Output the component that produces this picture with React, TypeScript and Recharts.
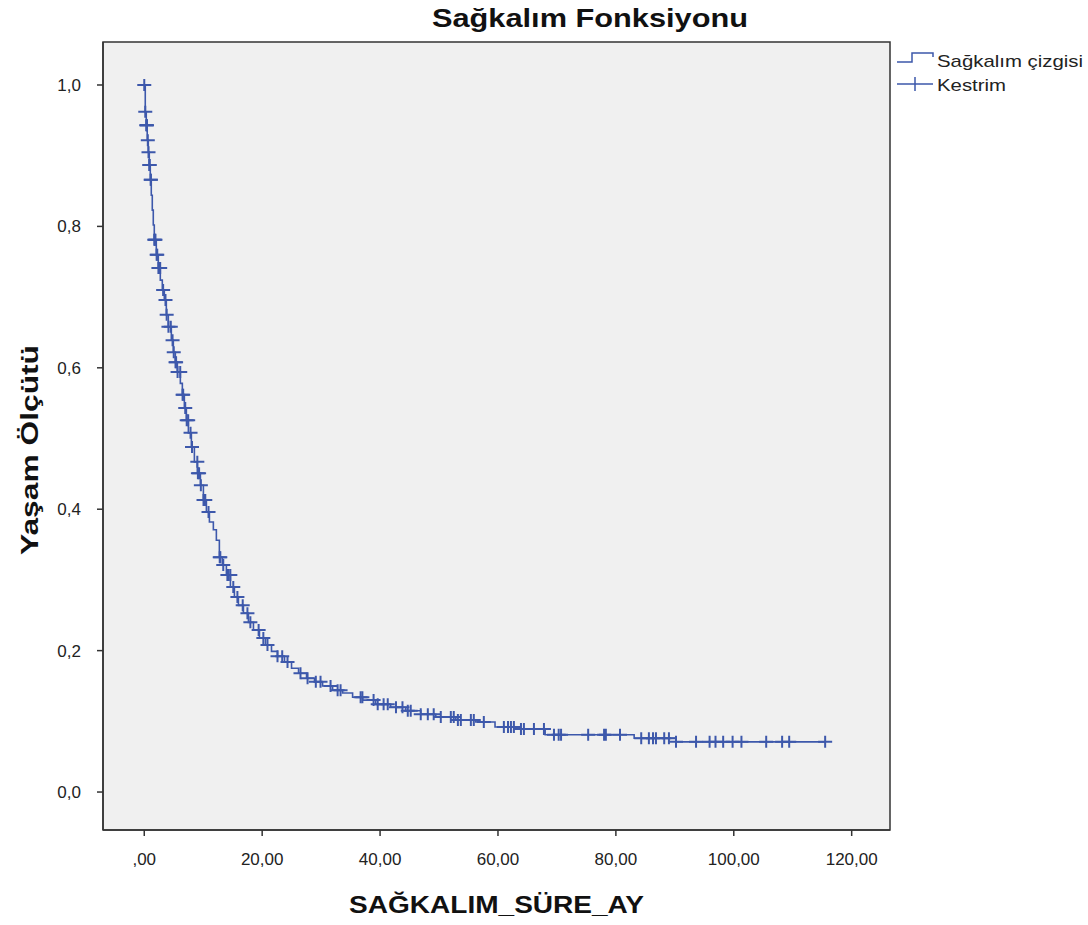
import React from 'react';
import {
  ComposedChart,
  Line,
  Scatter,
  XAxis,
  YAxis,
  ReferenceArea,
  Legend,
  Label
} from 'recharts';

// Kaplan-Meier estimate read off the SPSS output (months, survival)
const eventTimes = [
  0, 0.17, 0.34, 0.5, 0.68, 0.85, 1.02, 1.19, 1.36, 1.53, 1.7, 2.04, 2.38, 2.72, 3.06, 3.4, 3.74,
  4.08, 4.59, 4.93, 5.27, 5.61, 6.12, 6.46, 6.8, 7.14, 7.48, 7.99, 8.5, 9.01, 9.52, 10.03, 10.54,
  11.05, 11.72, 12.23, 12.74, 13.25, 13.93, 14.61, 15.29, 15.97, 16.82, 17.67, 18.52, 19.54, 20.56,
  21.58, 22.6, 23.79, 24.98, 26.17, 27.53, 28.89, 30.25, 31.95, 33.64, 35.34, 37.04, 39.25, 41.8,
  44.35, 46.9, 49.45, 52.85, 56.24, 59.5, 63.5, 68.0, 83.1, 90.2
];
const eventSurv = [
  1.0, 0.962, 0.943, 0.922, 0.905, 0.887, 0.866, 0.844, 0.823, 0.802, 0.781, 0.76, 0.741, 0.724,
  0.71, 0.696, 0.675, 0.658, 0.639, 0.622, 0.608, 0.594, 0.578, 0.562, 0.543, 0.526, 0.508, 0.488,
  0.467, 0.451, 0.434, 0.413, 0.396, 0.382, 0.371, 0.356, 0.332, 0.321, 0.307, 0.29, 0.276, 0.264,
  0.253, 0.24, 0.229, 0.218, 0.208, 0.199, 0.192, 0.184, 0.175, 0.168, 0.161, 0.156, 0.15, 0.144,
  0.14, 0.134, 0.13, 0.124, 0.12, 0.115, 0.11, 0.106, 0.102, 0.099, 0.092, 0.089, 0.081, 0.076, 0.071
];

// censored observations (Kestrim)
const censorTimes = [
  0, 0.17, 0.34, 0.42, 0.46, 0.6, 0.72, 0.85, 0.93, 1.1, 1.12, 1.7, 1.8, 1.9, 2.1, 2.2, 2.4, 2.6,
  2.7, 3.2, 3.6, 3.8, 4.1, 4.5, 4.8, 5.0, 5.3, 5.4, 5.65, 6.1, 6.5, 6.6, 6.95, 7.2, 7.45, 7.85, 8.1,
  9.0, 9.1, 9.3, 9.6, 10.05, 10.2, 10.35, 10.9, 12.8, 12.9, 13.4, 14.1, 14.3, 14.6, 15.1, 15.8,
  16.7, 17.5, 18.0, 19.4, 20.2, 20.9, 22.6, 23.4, 24.3, 26.5, 27.7, 29.1, 29.9, 31.6, 32.8, 33.3,
  36.7, 37.0, 38.9, 39.6, 40.6, 41.3, 42.7, 43.8, 44.7, 45.2, 46.9, 48.1, 49.1, 50.3, 52.0, 52.5,
  53.2, 53.7, 55.4, 55.9, 57.6, 61.0, 61.7, 62.2, 62.7, 63.9, 64.4, 66.1, 67.8, 69.5, 70.3, 70.7,
  75.3, 78.0, 78.3, 80.7, 84.3, 85.6, 86.3, 86.8, 88.2, 89.0, 90.2, 93.6, 95.9, 96.9, 98.2, 99.8,
  101.3, 105.5, 108.2, 109.4, 115.5
];

const xTicks = [0, 20, 40, 60, 80, 100, 120];
const yTicks = [0, 0.2, 0.4, 0.6, 0.8, 1.0];

const X_DOMAIN: [number, number] = [-7.0, 126.5];
const Y_DOMAIN: [number, number] = [-0.0537, 1.0608];

const BLUE = '#3d58ab';
const FONT = 'Arial, "Liberation Sans", sans-serif';

// survival level of the step function at time t
const survAt = (t: number) => {
  let s = eventSurv[0];
  for (let i = 0; i < eventTimes.length; i++) {
    if (eventTimes[i] <= t) s = eventSurv[i];
  }
  return s;
};

const lastTime = censorTimes[censorTimes.length - 1];
const stepData = eventTimes
  .map((t, i) => ({ t, s: eventSurv[i] }))
  .concat([{ t: lastTime, s: eventSurv[eventSurv.length - 1] }]);
const censorData = censorTimes.map(t => ({ t, s: survAt(t) }));

const fmtX = (v: number) => (v === 0 ? ',00' : v.toFixed(2).replace('.', ','));
const fmtY = (v: number) => v.toFixed(1).replace('.', ',');

const CensorMark = (props: any) => {
  const { cx, cy } = props;
  if (cx == null || cy == null) return null;
  return (
    <path
      d={`M${cx - 7},${cy}h14M${cx},${cy - 6}v12`}
      stroke={BLUE}
      strokeWidth={2}
      fill="none"
    />
  );
};

const LegendBox = () => (
  <svg width={195} height={60} style={{ display: 'block' }}>
    <path d="M4,22H19V13H40V17" stroke={BLUE} strokeWidth={1.5} fill="none" />
    <text x={44} y={27} fontFamily={FONT} fontSize={17} fill="#222" textLength={146} lengthAdjust="spacingAndGlyphs">
      Sağkalım çizgisi
    </text>
    <path d="M4,44H40M22,37V51" stroke={BLUE} strokeWidth={1.5} fill="none" />
    <text x={44} y={51} fontFamily={FONT} fontSize={17} fill="#222" textLength={69} lengthAdjust="spacingAndGlyphs">
      Kestrim
    </text>
  </svg>
);

const XTitle = (props: any) => {
  const vb = props.viewBox || {};
  return (
    <text
      x={vb.x + vb.width / 2}
      y={vb.y + 83}
      textAnchor="middle"
      fontFamily={FONT}
      fontWeight="bold"
      fontSize={23}
      fill="#111"
      textLength={295}
      lengthAdjust="spacingAndGlyphs"
    >
      SAĞKALIM_SÜRE_AY
    </text>
  );
};

const YTitle = (props: any) => {
  const vb = props.viewBox || {};
  const cx = 30;
  const cy = vb.y + vb.height / 2 + 14;
  return (
    <text
      x={cx}
      y={cy}
      transform={`rotate(-90 ${cx} ${cy})`}
      textAnchor="middle"
      dominantBaseline="central"
      fontFamily={FONT}
      fontWeight="bold"
      fontSize={23}
      fill="#111"
      textLength={210}
      lengthAdjust="spacingAndGlyphs"
    >
      Yaşam Ölçütü
    </text>
  );
};

export default function App() {
  return (
    <div style={{ position: 'absolute', left: 0, top: 0, width: 1088, height: 925, background: '#fff' }}>
      <svg width={1088} height={40} style={{ position: 'absolute', left: 0, top: 0 }}>
        <text
          x={590}
          y={27}
          textAnchor="middle"
          fontFamily={FONT}
          fontWeight="bold"
          fontSize={26}
          fill="#111"
          textLength={316}
          lengthAdjust="spacingAndGlyphs"
        >
          Sağkalım Fonksiyonu
        </text>
      </svg>
      <ComposedChart
        width={1088}
        height={925}
        margin={{ top: 42, right: 198, bottom: 0, left: 0 }}
        style={{ position: 'absolute', left: 0, top: 0 }}
      >
        <XAxis
          type="number"
          dataKey="t"
          domain={X_DOMAIN}
          ticks={xTicks}
          allowDataOverflow
          tickFormatter={fmtX}
          height={95}
          tickSize={6}
          tickMargin={17}
          axisLine={{ stroke: '#333', strokeWidth: 1.5 }}
          tickLine={{ stroke: '#333', strokeWidth: 1.5 }}
          tick={{ fill: '#222', fontSize: 17, fontFamily: FONT }}
        >
          <Label content={<XTitle />} />
        </XAxis>
        <YAxis
          type="number"
          dataKey="s"
          domain={Y_DOMAIN}
          ticks={yTicks}
          allowDataOverflow
          tickFormatter={fmtY}
          width={103}
          tickSize={6}
          tickMargin={16}
          axisLine={{ stroke: '#333', strokeWidth: 1.5 }}
          tickLine={{ stroke: '#333', strokeWidth: 1.5 }}
          tick={{ fill: '#222', fontSize: 17, fontFamily: FONT }}
        >
          <Label content={<YTitle />} />
        </YAxis>
        <ReferenceArea
          x1={X_DOMAIN[0]}
          x2={X_DOMAIN[1]}
          y1={Y_DOMAIN[0]}
          y2={Y_DOMAIN[1]}
          fill="#f0f0f0"
          fillOpacity={1}
          stroke="#333"
          strokeWidth={1.5}
        />
        <Line
          data={stepData}
          dataKey="s"
          name="Sağkalım çizgisi"
          type="stepAfter"
          stroke={BLUE}
          strokeWidth={1.6}
          dot={false}
          activeDot={false}
          isAnimationActive={false}
        />
        <Scatter
          data={censorData}
          dataKey="s"
          name="Kestrim"
          shape={<CensorMark />}
          isAnimationActive={false}
        />
        <Legend
          layout="horizontal"
          align="center"
          verticalAlign="middle"
          content={<LegendBox />}
          wrapperStyle={{ left: 893, top: 40, width: 195, height: 60 }}
        />
      </ComposedChart>
    </div>
  );
}
